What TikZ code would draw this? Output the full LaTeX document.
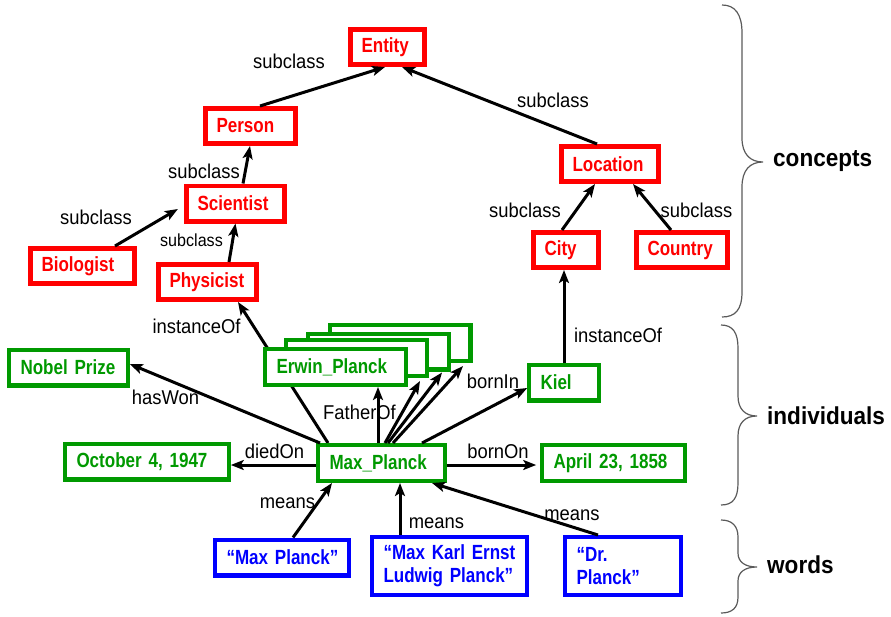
\documentclass[tikz,border=0pt]{standalone}
\usepackage{fontspec}
\setmainfont{Liberation Sans}
\newfontfamily\boxfont[FakeStretch=0.83]{Liberation Sans}
\newfontfamily\tagfont[FakeStretch=0.92]{Liberation Sans}
\usetikzlibrary{arrows.meta,calc}
\pgfdeclarelayer{background}
\pgfsetlayers{background,main}

\definecolor{cred}{RGB}{255,0,0}
\definecolor{cgreen}{RGB}{0,153,0}
\definecolor{cblue}{RGB}{0,0,255}
\definecolor{cbrace}{RGB}{90,90,90}

\begin{document}
\begin{tikzpicture}[x=1pt,y=-1pt,
  boxbase/.style={draw, fill=white, align=left, inner xsep=11.2pt, inner ysep=0pt,
    font=\boxfont\bfseries\fontsize{20.5}{23}\selectfont},
  cls/.style={boxbase, draw=cred, text=cred, line width=4.8pt, minimum height=35.2pt},
  ind/.style={boxbase, draw=cgreen, text=cgreen, line width=4.2pt, minimum height=35.8pt},
  wrd/.style={boxbase, draw=cblue, text=cblue, line width=4.2pt, minimum height=35.8pt},
  lbl/.style={anchor=base, inner sep=0pt, font=\tagfont\fontsize{20}{22}\selectfont},
  grp/.style={anchor=base west, inner sep=0pt, font=\tagfont\bfseries\fontsize{24.5}{26}\selectfont},
  arr/.style={-{Stealth[length=13pt,width=10pt,inset=3pt]}, line width=3pt},
  bracestyle/.style={draw=cbrace, line width=1.2pt}
]
\useasboundingbox (0,0) rectangle (891,616);

% ---- concept classes
\node[cls, text width=52pt] (entity)    at (387.5,47)  {Entity};
\node[cls, text width=68pt] (person)    at (250.5,126) {Person};
\node[cls, text width=76pt] (scientist) at (235.5,203.5) {Scientist};
\node[cls, text width=82pt] (biologist) at (82.5,266)  {Biologist};
\node[cls, text width=76pt] (physicist) at (207.5,282) {Physicist};
\node[cls, text width=75pt] (location)  at (610,164)   {Location};
\node[cls, text width=43pt] (city)      at (566,250)   {City};
\node[cls, text width=69pt] (country)   at (682,250)   {Country};

% ---- individuals (stack of children drawn back to front)
\node[ind, minimum width=140.8pt] (erwinD) at (400,343)   {};
\node[ind, minimum width=140.8pt] (erwinC) at (378.5,351.5) {};
\node[ind, minimum width=140.8pt] (erwinB) at (356.5,358) {};
\node[ind, text width=118pt] (erwin)   at (335.5,367) {Erwin\_Planck};
\node[ind, text width=96pt]  (nobel)   at (68.5,367.5) {Nobel~Prize};
\node[ind, text width=47pt]  (kiel)    at (564,382.5) {Kiel};
\node[ind, text width=141pt] (october) at (147,461.5) {October~4,~1947};
\node[ind, text width=104pt] (max)     at (381.5,463) {Max\_Planck};
\node[ind, text width=120pt] (april)   at (613.5,463) {April~23,~1858};

% ---- words
\node[wrd, text width=111pt] (wmax) at (282,557.5) {“Max~Planck”};
\node[wrd, text width=132pt, minimum height=57.8pt] (wfull) at (449.5,566) {“Max~Karl~Ernst\\Ludwig~Planck”};
\node[wrd, text width=93pt,  minimum height=57.8pt] (wdr)   at (623,566)   {“Dr.\\Planck”};

% ---- subclass hierarchy
\draw[arr] ([xshift=9.5pt]person.north) -- ([xshift=-2.5pt]entity.south);
\draw[arr] ([xshift=-13pt]location.north) -- ([xshift=14.5pt]entity.south);
\draw[arr] ([xshift=7.5pt]scientist.north) -- ([xshift=-0.5pt]person.south);
\draw[arr] ([xshift=32.5pt]biologist.north) -- ([xshift=-6pt,yshift=-5.5pt]scientist.west);
\draw[arr] ([xshift=21.5pt]physicist.north) -- (scientist.south);
\draw[arr] ([xshift=-4pt]city.north) -- ([xshift=-15pt]location.south);
\draw[arr] ([xshift=-11pt]country.north) -- ([xshift=23pt]location.south);

% ---- instance links
\draw[arr] (kiel.north) -- (kiel.north |- city.south);
\begin{pgfonlayer}{background}
\draw[arr] ([xshift=-53.5pt]max.north) -- ([xshift=30.5pt]physicist.south);
\end{pgfonlayer}

% ---- facts about Max_Planck
\draw[arr] ([xshift=-61.5pt]max.north) -- ([yshift=3.5pt]nobel.east);
\coordinate (mw) at ([yshift=-2pt]max.west);
\coordinate (me) at ([yshift=-2pt]max.east);
\draw[arr] (mw) -- (mw -| october.east);
\draw[arr, shorten >=4pt] (me) -- (me -| april.west);
\draw[arr] ([xshift=40.5pt]max.north) -- ([yshift=-5.5pt]kiel.west);
\coordinate (fv) at ([xshift=-3.5pt]max.north);
\draw[arr] (fv) -- (fv |- erwin.south);
\draw[arr] ([xshift=3.5pt]max.north) -- ([xshift=63.5pt,yshift=-3pt]erwinB.south);
\draw[arr] ([xshift=6.5pt]max.north) -- ([xshift=63.5pt,yshift=-1pt]erwinC.south);
\draw[arr] ([xshift=11.5pt]max.north) -- ([xshift=63pt,yshift=-3pt]erwinD.south);

% ---- words to entity
\draw[arr] ([xshift=11pt]wmax.north) -- ([xshift=-49.5pt]max.south);
\draw[arr] ([xshift=-49.5pt]wfull.north) -- ([xshift=18.5pt]max.south);
\draw[arr] ([xshift=-25pt]wdr.north) -- ([xshift=50.5pt]max.south);

% ---- edge labels
\node[lbl] (t1)  at (289,68)   {subclass};
\node[lbl] (t2)  at (553,107)  {subclass};
\node[lbl] (t3)  at (204,178)  {subclass};
\node[lbl] (t4)  at (96,224)   {subclass};
\node[lbl, font=\tagfont\fontsize{17.5}{19}\selectfont] (t5) at (191.5,246) {subclass};
\node[lbl] (t6)  at (525,217)  {subclass};
\node[lbl] (t7)  at (696.5,217) {subclass};
\node[lbl] (t8)  at (196.5,333) {instanceOf};
\node[lbl] (t9)  at (618,342)  {instanceOf};
\node[lbl] (t10) at (165.5,404) {hasWon};
\node[lbl] (t11) at (359.5,419) {FatherOf};
\node[lbl] (t12) at (274.5,458) {diedOn};
\node[lbl] (t13) at (493,388)  {bornIn};
\node[lbl] (t14) at (498,458)  {bornOn};
\node[lbl] (t15) at (287.5,508) {means};
\node[lbl] (t16) at (436.5,528) {means};
\node[lbl] (t17) at (572,520)  {means};

% ---- layer braces
\draw[bracestyle] (722,5) .. controls (735,5) and (742,14) .. (742,33)
  -- (742,138) .. controls (742,154) and (750,162) .. (763,162)
  .. controls (750,162) and (742,170) .. (742,187)
  -- (742,292) .. controls (742,310) and (735,317) .. (722,317);
\draw[bracestyle] (721,325) .. controls (733,325) and (738,333) .. (738,348)
  -- (738,396) .. controls (738,409) and (745,416) .. (757,416)
  .. controls (745,416) and (738,423) .. (738,436)
  -- (738,483) .. controls (738,498) and (733,505) .. (721,505);
\draw[bracestyle] (721,520) .. controls (732,520) and (738,526) .. (738,537)
  -- (738,553) .. controls (738,562) and (745,567) .. (757,567)
  .. controls (745,567) and (738,572) .. (738,581)
  -- (738,597) .. controls (738,608) and (732,613) .. (721,613);

\node[grp] (gconcepts) at (773,166) {concepts};
\node[grp] (gindiv)    at (767,424) {individuals};
\node[grp] (gwords)    at (767,573) {words};
\end{tikzpicture}
\end{document}
